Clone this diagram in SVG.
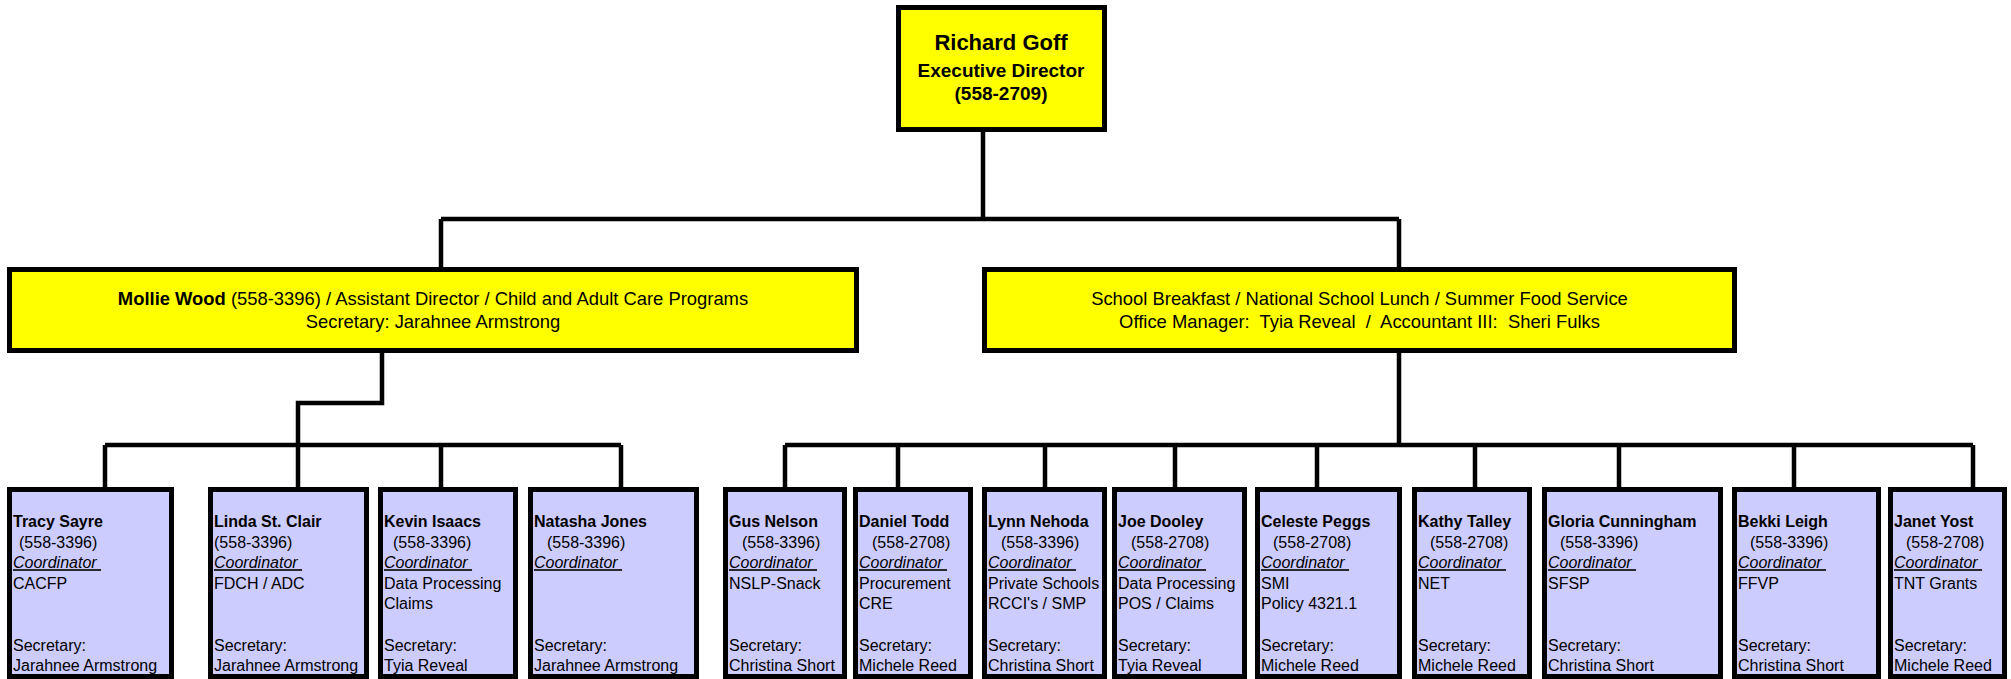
<svg xmlns="http://www.w3.org/2000/svg" width="2011" height="679" viewBox="0 0 2011 679">
<style>
.yb{fill:#FFFF00;stroke:#000;stroke-width:5}
.cb{fill:#CCCCFF;stroke:#000;stroke-width:5}
.ln{fill:none;stroke:#000;stroke-width:4.5;stroke-linejoin:miter}
text{font-family:"Liberation Sans",Arial,sans-serif;fill:#000}
.t{font-size:16px}
.n{font-weight:bold}
.c{font-style:italic;text-decoration:underline}
.m{font-size:18.4px;text-anchor:middle}
.h{font-weight:bold;text-anchor:middle}
</style>
<g id="connectors">
<path class="ln" d="M983,132V219M441,219H1399M441,219V267M1399,219V267"/>
<path class="ln" d="M382,353V403H298V445M105,445H621M105,445V487M298,445V487M441,445V487M621,445V487"/>
<path class="ln" d="M1399,353V445M785,445H1973M785,445V487M898,445V487M1045,445V487M1175,445V487M1317,445V487M1475,445V487M1619,445V487M1794,445V487M1973,445V487"/>
</g>
<g id="richard-goff">
<rect class="yb" x="898.5" y="7.5" width="206" height="122"/>
<text class="h" x="1001" y="50" font-size="22">Richard Goff</text>
<text class="h" x="1001" y="77" font-size="19">Executive Director</text>
<text class="h" x="1001" y="100" font-size="19">(558-2709)</text>
</g>
<g id="mollie-wood">
<rect class="yb" x="9.5" y="269.5" width="847" height="81"/>
<text class="m" x="433" y="305"><tspan font-weight="bold">Mollie Wood</tspan> (558-3396) / Assistant Director / Child and Adult Care Programs</text>
<text class="m" x="433" y="328">Secretary: Jarahnee Armstrong</text>
</g>
<g id="school-food">
<rect class="yb" x="984.5" y="269.5" width="750" height="81"/>
<text class="m" x="1359.5" y="305">School Breakfast / National School Lunch / Summer Food Service</text>
<text class="m" x="1359.5" y="328" xml:space="preserve">Office Manager:  Tyia Reveal  /  Accountant III:  Sheri Fulks</text>
</g>
<g id="tracy-sayre">
<rect class="cb" x="9.5" y="489.5" width="162" height="187"/>
<text class="t n" x="13" y="527">Tracy Sayre</text>
<text class="t" x="19" y="547.6">(558-3396)</text>
<text class="t c" x="13" y="568.2">Coordinator&#160;</text>
<text class="t" x="13" y="588.8">CACFP</text>
<text class="t" x="13" y="650.6">Secretary:</text>
<text class="t" x="13" y="671.2">Jarahnee Armstrong</text>
</g>
<g id="linda-st-clair">
<rect class="cb" x="210.5" y="489.5" width="156" height="187"/>
<text class="t n" x="214" y="527">Linda St. Clair</text>
<text class="t" x="214" y="547.6">(558-3396)</text>
<text class="t c" x="214" y="568.2">Coordinator&#160;</text>
<text class="t" x="214" y="588.8">FDCH / ADC</text>
<text class="t" x="214" y="650.6">Secretary:</text>
<text class="t" x="214" y="671.2">Jarahnee Armstrong</text>
</g>
<g id="kevin-isaacs">
<rect class="cb" x="380.5" y="489.5" width="135" height="187"/>
<text class="t n" x="384" y="527">Kevin Isaacs</text>
<text class="t" x="393" y="547.6">(558-3396)</text>
<text class="t c" x="384" y="568.2">Coordinator&#160;</text>
<text class="t" x="384" y="588.8">Data Processing</text>
<text class="t" x="384" y="609.4">Claims</text>
<text class="t" x="384" y="650.6">Secretary:</text>
<text class="t" x="384" y="671.2">Tyia Reveal</text>
</g>
<g id="natasha-jones">
<rect class="cb" x="530.5" y="489.5" width="166" height="187"/>
<text class="t n" x="534" y="527">Natasha Jones</text>
<text class="t" x="547" y="547.6">(558-3396)</text>
<text class="t c" x="534" y="568.2">Coordinator&#160;</text>
<text class="t" x="534" y="650.6">Secretary:</text>
<text class="t" x="534" y="671.2">Jarahnee Armstrong</text>
</g>
<g id="gus-nelson">
<rect class="cb" x="725.5" y="489.5" width="119" height="187"/>
<text class="t n" x="729" y="527">Gus Nelson</text>
<text class="t" x="742" y="547.6">(558-3396)</text>
<text class="t c" x="729" y="568.2">Coordinator&#160;</text>
<text class="t" x="729" y="588.8">NSLP-Snack</text>
<text class="t" x="729" y="650.6">Secretary:</text>
<text class="t" x="729" y="671.2">Christina Short</text>
</g>
<g id="daniel-todd">
<rect class="cb" x="855.5" y="489.5" width="115" height="187"/>
<text class="t n" x="859" y="527">Daniel Todd</text>
<text class="t" x="872" y="547.6">(558-2708)</text>
<text class="t c" x="859" y="568.2">Coordinator&#160;</text>
<text class="t" x="859" y="588.8">Procurement</text>
<text class="t" x="859" y="609.4">CRE</text>
<text class="t" x="859" y="650.6">Secretary:</text>
<text class="t" x="859" y="671.2">Michele Reed</text>
</g>
<g id="lynn-nehoda">
<rect class="cb" x="984.5" y="489.5" width="120" height="187"/>
<text class="t n" x="988" y="527">Lynn Nehoda</text>
<text class="t" x="1001" y="547.6">(558-3396)</text>
<text class="t c" x="988" y="568.2">Coordinator&#160;</text>
<text class="t" x="988" y="588.8">Private Schools</text>
<text class="t" x="988" y="609.4">RCCI's / SMP</text>
<text class="t" x="988" y="650.6">Secretary:</text>
<text class="t" x="988" y="671.2">Christina Short</text>
</g>
<g id="joe-dooley">
<rect class="cb" x="1114.5" y="489.5" width="130" height="187"/>
<text class="t n" x="1118" y="527">Joe Dooley</text>
<text class="t" x="1131" y="547.6">(558-2708)</text>
<text class="t c" x="1118" y="568.2">Coordinator&#160;</text>
<text class="t" x="1118" y="588.8">Data Processing</text>
<text class="t" x="1118" y="609.4">POS / Claims</text>
<text class="t" x="1118" y="650.6">Secretary:</text>
<text class="t" x="1118" y="671.2">Tyia Reveal</text>
</g>
<g id="celeste-peggs">
<rect class="cb" x="1257.5" y="489.5" width="142" height="187"/>
<text class="t n" x="1261" y="527">Celeste Peggs</text>
<text class="t" x="1273" y="547.6">(558-2708)</text>
<text class="t c" x="1261" y="568.2">Coordinator&#160;</text>
<text class="t" x="1261" y="588.8">SMI</text>
<text class="t" x="1261" y="609.4">Policy 4321.1</text>
<text class="t" x="1261" y="650.6">Secretary:</text>
<text class="t" x="1261" y="671.2">Michele Reed</text>
</g>
<g id="kathy-talley">
<rect class="cb" x="1414.5" y="489.5" width="115" height="187"/>
<text class="t n" x="1418" y="527">Kathy Talley</text>
<text class="t" x="1430" y="547.6">(558-2708)</text>
<text class="t c" x="1418" y="568.2">Coordinator&#160;</text>
<text class="t" x="1418" y="588.8">NET</text>
<text class="t" x="1418" y="650.6">Secretary:</text>
<text class="t" x="1418" y="671.2">Michele Reed</text>
</g>
<g id="gloria-cunningham">
<rect class="cb" x="1544.5" y="489.5" width="176" height="187"/>
<text class="t n" x="1548" y="527">Gloria Cunningham</text>
<text class="t" x="1560" y="547.6">(558-3396)</text>
<text class="t c" x="1548" y="568.2">Coordinator&#160;</text>
<text class="t" x="1548" y="588.8">SFSP</text>
<text class="t" x="1548" y="650.6">Secretary:</text>
<text class="t" x="1548" y="671.2">Christina Short</text>
</g>
<g id="bekki-leigh">
<rect class="cb" x="1734.5" y="489.5" width="144" height="187"/>
<text class="t n" x="1738" y="527">Bekki Leigh</text>
<text class="t" x="1750" y="547.6">(558-3396)</text>
<text class="t c" x="1738" y="568.2">Coordinator&#160;</text>
<text class="t" x="1738" y="588.8">FFVP</text>
<text class="t" x="1738" y="650.6">Secretary:</text>
<text class="t" x="1738" y="671.2">Christina Short</text>
</g>
<g id="janet-yost">
<rect class="cb" x="1890.5" y="489.5" width="114" height="187"/>
<text class="t n" x="1894" y="527">Janet Yost</text>
<text class="t" x="1906" y="547.6">(558-2708)</text>
<text class="t c" x="1894" y="568.2">Coordinator&#160;</text>
<text class="t" x="1894" y="588.8">TNT Grants</text>
<text class="t" x="1894" y="650.6">Secretary:</text>
<text class="t" x="1894" y="671.2">Michele Reed</text>
</g>
</svg>
